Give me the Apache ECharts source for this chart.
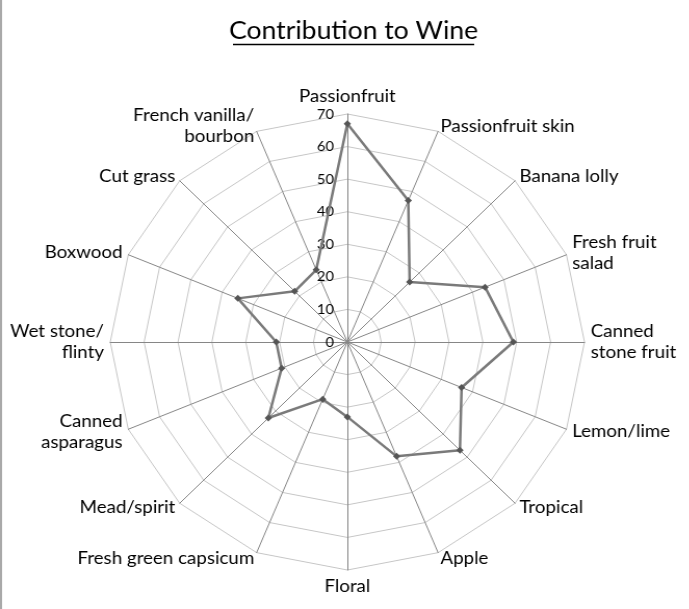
<!DOCTYPE html>
<html>
<head>
<meta charset="utf-8">
<script src="https://cdn.jsdelivr.net/npm/echarts@6/dist/echarts.min.js"></script>
<style>
  html, body { margin: 0; padding: 0; background: #fff; overflow: hidden; }
  /* the original picture is a little wider than tall, so stretch the canvas by 4% */
  #main { width: 663px; height: 609px; transform: scaleX(1.04); transform-origin: 0 0; }
</style>
</head>
<body>
<div id="main"></div>
<script>
// aromas, clockwise from the top
var categories = [
  'Passionfruit', 'Passionfruit skin', 'Banana lolly', 'Fresh fruit\nsalad',
  'Canned\nstone fruit', 'Lemon/lime', 'Tropical', 'Apple', 'Floral',
  'Fresh green capsicum', 'Mead/spirit', 'Canned\nasparagus', 'Wet stone/\nflinty',
  'Boxwood', 'Cut grass', 'French vanilla/\nbourbon'
];
var values = [67, 47, 26, 44, 49, 36.5, 47, 38, 23, 19, 33, 21, 21, 35, 22, 24];
var axisMax = 70;
var tickStep = 10;

var myChart = echarts.init(document.getElementById('main'));

// echarts lays radar axes out counter-clockwise, so flip the order (keep the first one on top)
var order = [0];
for (var i = categories.length - 1; i > 0; i--) order.push(i);

var indicator = order.map(function (k, j) {
  return {
    name: categories[k],
    max: axisMax,
    min: 0,
    axisLabel: { show: j === 0 }
  };
});

var option = {
  animation: false,
  title: {
    text: 'Contribution to Wine',
    left: 335,
    top: 13,
    textAlign: 'center',
    textStyle: { fontFamily: 'Lato', fontWeight: 'normal', fontSize: 25.5, color: '#000' }
  },
  graphic: [
    { type: 'line', shape: { x1: 224, y1: 44.5, x2: 456, y2: 44.5 }, style: { stroke: '#000', lineWidth: 1.5 } },
    { type: 'line', shape: { x1: 1, y1: 0, x2: 1, y2: 609 }, style: { stroke: '#8c8c8c', lineWidth: 1.5 } }
  ],
  radar: {
    center: [334, 342],
    radius: 228,
    startAngle: 90,
    shape: 'polygon',
    splitNumber: axisMax / tickStep,
    indicator: indicator,
    nameGap: 6,
    axisName: {
      color: '#000',
      fontFamily: 'Lato',
      fontSize: 18,
      lineHeight: 21
    },
    axisLine: { lineStyle: { color: '#868686', width: 1 } },
    splitLine: { lineStyle: { color: '#c6c6c6', width: 1 } },
    splitArea: { show: false },
    axisTick: { show: false },
    axisLabel: {
      show: true,
      color: '#000',
      fontFamily: 'Lato',
      fontSize: 14,
      margin: 13
    }
  },
  series: [{
    type: 'radar',
    symbol: 'diamond',
    symbolSize: 7,
    lineStyle: { color: '#7a7a7a', width: 2.5 },
    itemStyle: { color: '#555' },
    data: [{ value: order.map(function (k) { return values[k]; }) }]
  }]
};

myChart.setOption(option);
</script>
</body>
</html>
